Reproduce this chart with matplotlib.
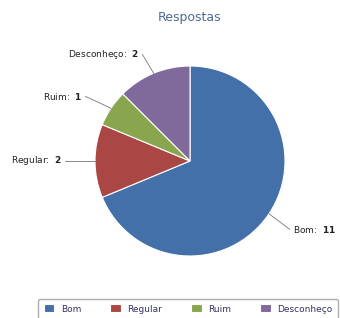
import numpy as np
import matplotlib
matplotlib.use("Agg")
import matplotlib.pyplot as plt

categorias = ["Bom", "Regular", "Ruim", "Desconheço"]
valores = [11, 2, 1, 2]
cores = ["#4370A8", "#AA4643", "#89A54E", "#80699B"]

# posicao do texto (ponta da linha) de cada rotulo, em raios do pie
pos_linha = [(1.05, -0.72), (-1.32, 0.0), (-1.10, 0.68), (-0.50, 1.12)]

plt.rcParams['font.family'] = ['DejaVu Sans']
fig = plt.figure(figsize=(3.4, 3.18), dpi=100)
fig.patch.set_facecolor("white")

# eixo quadrado: centro do pie em (190, 161) px, raio 95 px
ax = fig.add_axes([95 / 340, (318 - 256) / 318, 190 / 340, 190 / 318])
wedges, _ = ax.pie(valores, colors=cores, startangle=90, counterclock=False,
                   radius=1.0, wedgeprops=dict(edgecolor="white", linewidth=0.8))
ax.set_xlim(-1, 1)
ax.set_ylim(-1, 1)
ax.set_aspect("equal")
ax.axis("off")

for w, nome, val, (lx, ly) in zip(wedges, categorias, valores, pos_linha):
    ang = np.deg2rad((w.theta1 + w.theta2) / 2)
    x0, y0 = np.cos(ang), np.sin(ang)
    ax.plot([x0, lx], [y0, ly], color="#777777", lw=0.6, clip_on=False)
    ha = "left" if lx > 0 else "right"
    dx = 0.03 if lx > 0 else -0.03
    ax.annotate(f"{nome}:  $\\bf{{{val}}}$", xy=(lx + dx, ly), ha=ha, va="center",
                fontsize=6.5, color="#222222", annotation_clip=False)

fig.text(190 / 340, 1 - 17 / 318, "Respostas", ha="center", va="center",
         fontsize=9, color="#4D6A93")

leg = fig.legend(wedges, categorias, loc="upper center", ncol=4,
                 bbox_to_anchor=(188 / 340, 1 - 299 / 318), fontsize=6.5,
                 frameon=True, fancybox=True, edgecolor="#999999",
                 handlelength=1.2, handleheight=1.0, columnspacing=3.2,
                 handletextpad=0.7, borderpad=0.6, borderaxespad=0)
for t in leg.get_texts():
    t.set_color("#333366")

fig.savefig("out.png", dpi=100)
